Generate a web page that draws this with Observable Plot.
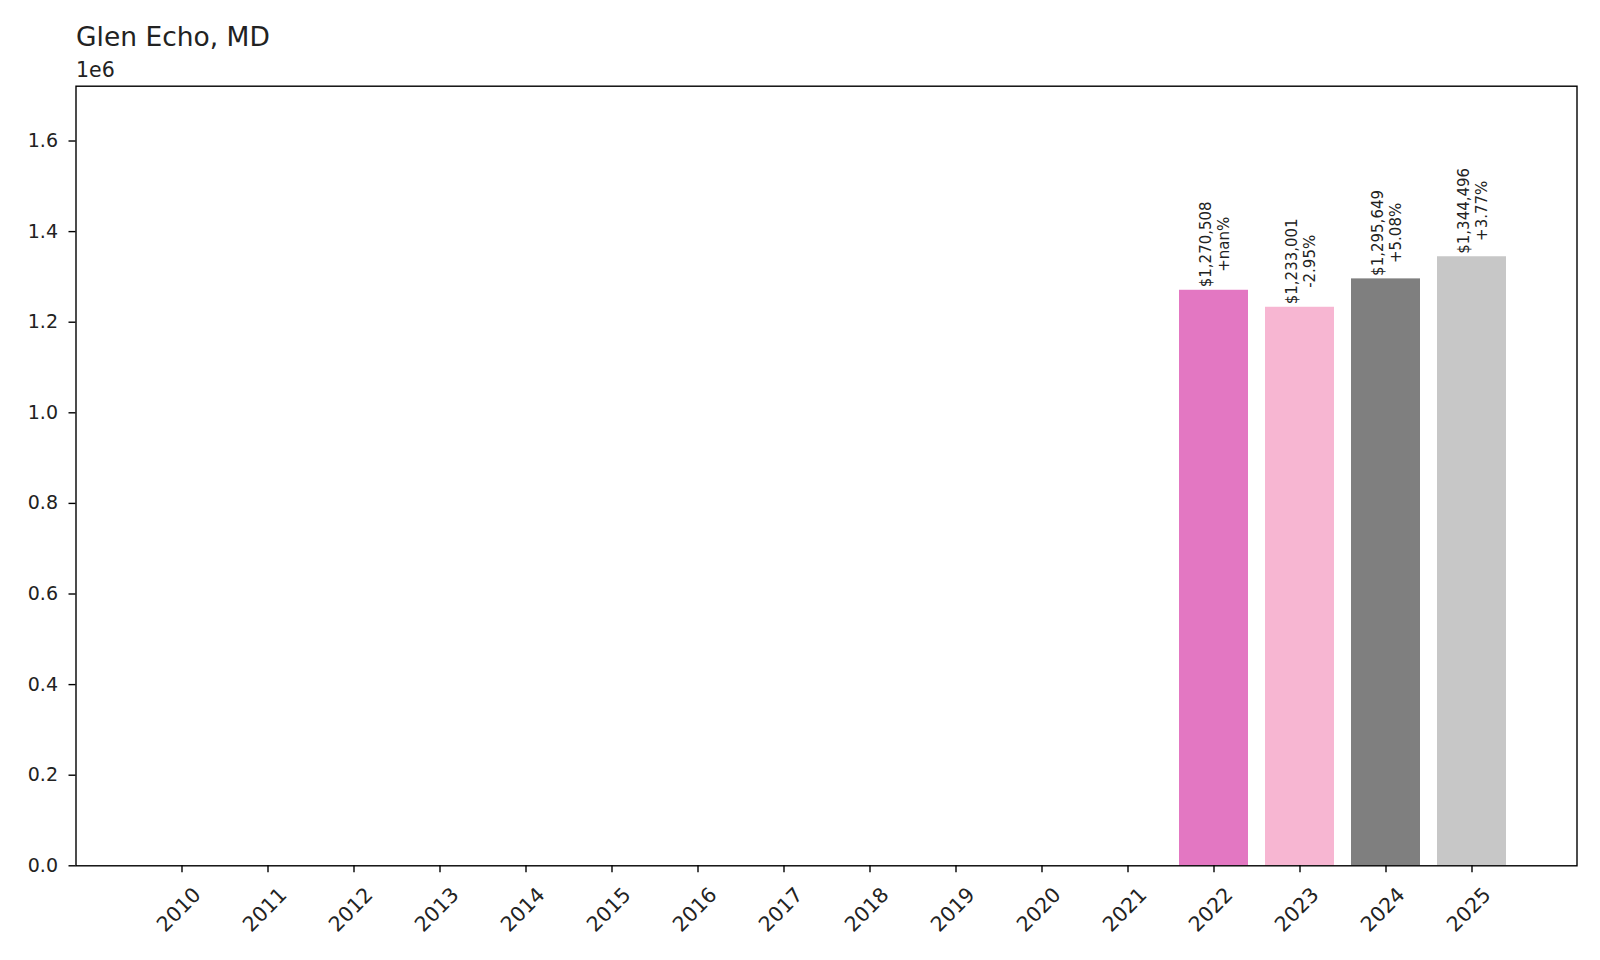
<!DOCTYPE html>
<html>
<head>
<meta charset="utf-8">
<script src="https://cdn.jsdelivr.net/npm/d3@7"></script>
<script src="https://cdn.jsdelivr.net/npm/@observablehq/plot@0.6"></script>
<style>
  html, body { margin: 0; padding: 0; background: #fff; }
  #chart { width: 1600px; height: 960px; }
</style>
</head>
<body>
<div id="chart"></div>
<script>
// ---- data ----
const years = ["2010","2011","2012","2013","2014","2015","2016","2017","2018","2019","2020","2021","2022","2023","2024","2025"];
const values = [null,null,null,null,null,null,null,null,null,null,null,null,1270508,1233001,1295649,1344496];
const pctLabels = [null,null,null,null,null,null,null,null,null,null,null,null,"+nan%","-2.95%","+5.08%","+3.77%"];
const barColors = ["#1f77b4","#aec7e8","#ff7f0e","#ffbb78","#2ca02c","#98df8a","#d62728","#ff9896","#9467bd","#c5b0d5","#8c564b","#c49c94","#e377c2","#f7b6d2","#7f7f7f","#c7c7c7"];
const yTicks = [0, 200000, 400000, 600000, 800000, 1000000, 1200000, 1400000, 1600000];
const yMax = 1721000;
const title = "Glen Echo, MD";

const FONT = "DejaVu Sans, sans-serif";
const W = 1600, H = 960;
const mL = 75.5, mR = 23.5, mT = 85.7, mB = 94.7;

const rows = years.map((y, i) => ({year: y, value: values[i], pct: pctLabels[i], color: barColors[i]}));
const present = rows.filter(d => d.value != null);

const ctx = document.createElement("canvas").getContext("2d");
const labelSize = 15;
ctx.font = `${labelSize}px DejaVu Sans`;
const fmt = d3.format(",");
const labelMarks = present.map(d => {
  const l1 = "$" + fmt(d.value);
  const len = Math.max(ctx.measureText(l1).width, ctx.measureText(d.pct).width);
  return Plot.text([d], {
    x: "year", y: "value",
    text: r => "$" + fmt(r.value) + "\n" + r.pct,
    rotate: -90, textAnchor: "middle", lineAnchor: "middle", lineHeight: 1.2,
    fontSize: labelSize, fill: "#222",
    dy: -(len / 2 + 3)
  });
});

const yTickSize = 19;
const xTickSize = 20.5;

const chart = Plot.plot({
  width: W, height: H,
  marginLeft: mL, marginRight: mR, marginTop: mT, marginBottom: mB,
  style: {fontFamily: FONT, background: "#fff"},
  x: {type: "band", domain: years, paddingInner: 0.2, paddingOuter: 0.79, align: 0.5, label: null},
  y: {domain: [0, yMax], label: null},
  marks: [
    Plot.barY(present, {x: "year", y: "value", fill: "color"}),
    ...labelMarks,
    Plot.frame({stroke: "#000", strokeWidth: 1.4}),
    Plot.axisY({ticks: yTicks, tickSize: 7, tickPadding: 11, tickFormat: d => (d / 1e6).toFixed(1), fontSize: yTickSize, label: null, stroke: "#000", strokeWidth: 1.4, color: "#222"}),
    Plot.axisX({tickSize: 7, text: null, label: null, stroke: "#000", strokeWidth: 1.4}),
    Plot.text(years, {x: d => d, frameAnchor: "bottom", text: d => d, rotate: -45, textAnchor: "middle", lineAnchor: "middle", fontSize: xTickSize, fill: "#222", dy: 44, dx: -3}),
    Plot.text([title], {frameAnchor: "top-left", text: d => d, fontSize: 26.5, fill: "#222", lineAnchor: "bottom", dy: -(mT - 45.7), textAnchor: "start"}),
    Plot.text(["1e6"], {frameAnchor: "top-left", text: d => d, fontSize: 20.5, fill: "#222", lineAnchor: "bottom", dy: -(mT - 76.5), textAnchor: "start"})
  ]
});
document.getElementById("chart").appendChild(chart);
</script>
</body>
</html>
